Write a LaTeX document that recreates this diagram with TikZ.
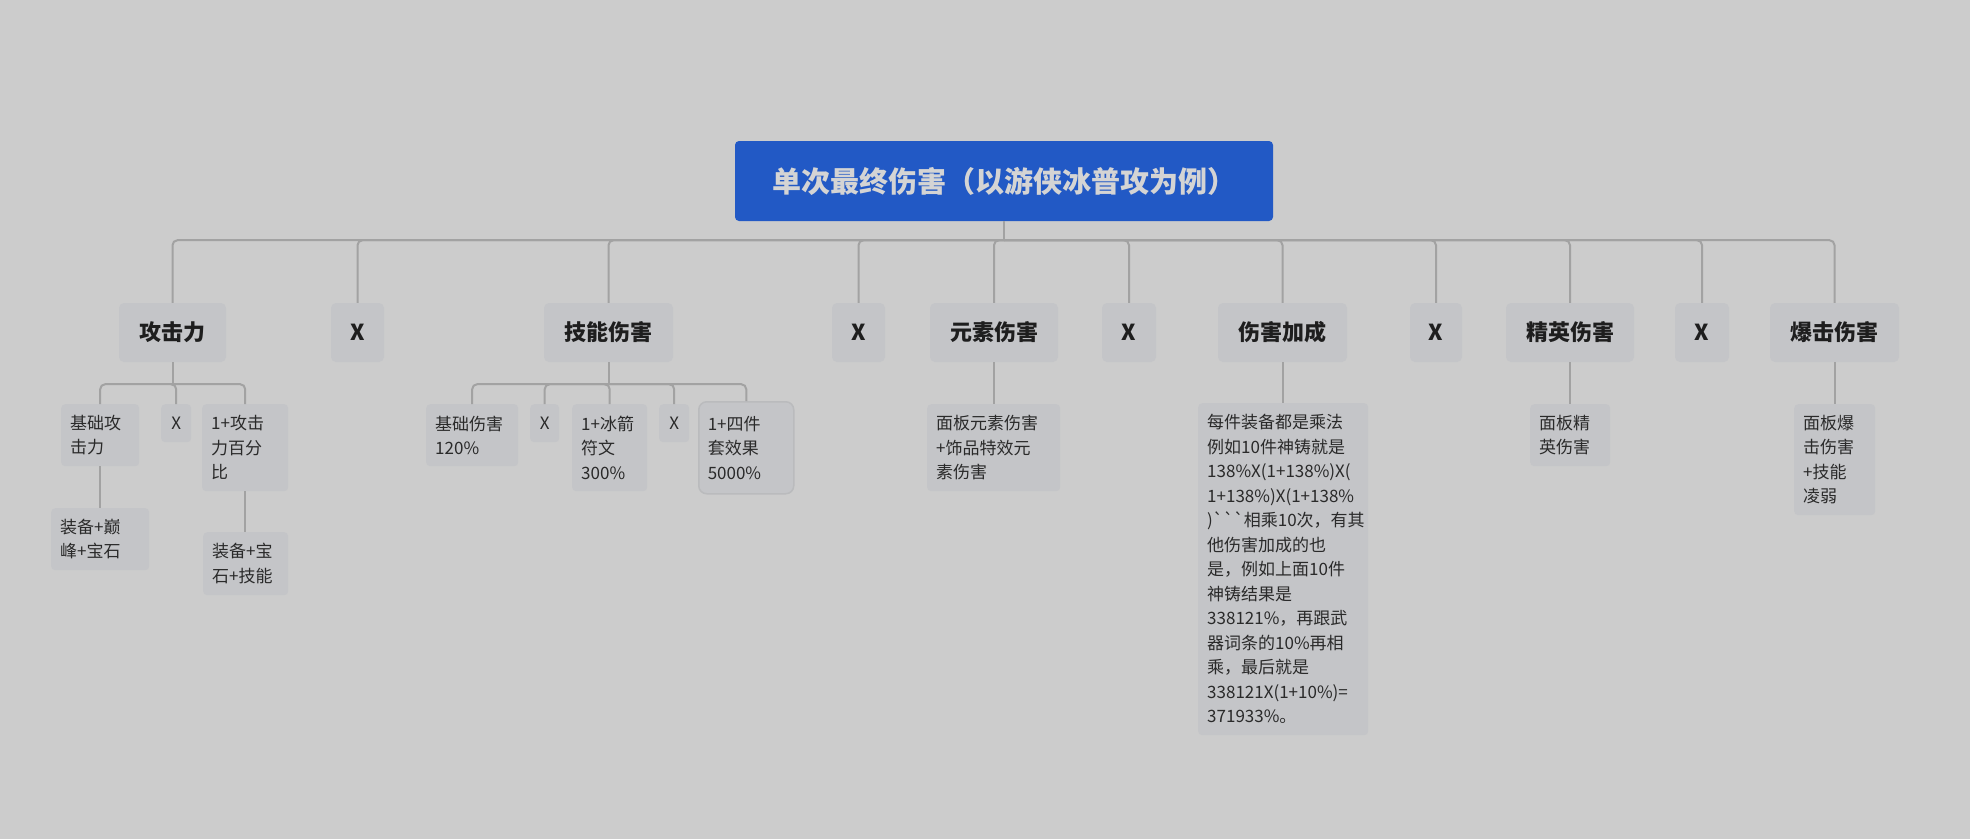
\documentclass[tikz,border=0pt]{standalone}
\usepackage{fontspec}
\setmainfont{Noto Sans CJK SC}
\newfontfamily\rawfont{Noto Sans CJK SC}[Ligatures=TeXOff]
\definecolor{bg}{HTML}{CCCCCC}
\definecolor{nodefill}{HTML}{C4C5C8}
\definecolor{rootfill}{HTML}{2259C5}
\definecolor{roottext}{HTML}{D4D4D4}
\definecolor{linec}{HTML}{A2A2A2}
\definecolor{textc}{HTML}{1E1E1E}
\definecolor{subtext}{HTML}{2A2A2A}
\definecolor{selc}{HTML}{BABBBD}
\begin{document}
\begin{tikzpicture}[x=1pt,y=-1pt,
  rootbox/.style={fill=rootfill, rounded corners=4pt, text=roottext, font=\fontsize{29}{34}\selectfont\bfseries, minimum width=538pt, minimum height=80pt, inner sep=0pt},
  mainbox/.style={fill=nodefill, rounded corners=5pt, text=textc, font=\fontsize{22}{26}\selectfont\bfseries, minimum height=59pt, inner sep=0pt},
  subbox/.style={fill=nodefill, rounded corners=4pt, text=subtext, font=\fontsize{17}{24.5}\selectfont, align=left, inner xsep=9pt, inner ysep=0pt, anchor=north west},
  xbox/.style={fill=nodefill, rounded corners=4pt, text=subtext, font=\fontsize{17}{24.5}\selectfont, inner sep=0pt, anchor=north west, minimum height=38pt},
  conn/.style={draw=linec, line width=2pt, rounded corners=5pt},
  stem/.style={draw=linec, line width=2pt},
]
\fill[bg] (0,0) rectangle (1970,839);
\useasboundingbox (0,0) rectangle (1970,839);

% root
\node[rootbox] (root) at (1004,181) {单次最终伤害（以游侠冰普攻为例）};

% level 1
\node[mainbox, minimum width=107pt] (m1) at (172.5,332.5) {攻击力};
\node[mainbox, minimum width=53pt]  (x1) at (357.5,332.5) {X};
\node[mainbox, minimum width=129pt] (m2) at (608.5,332.5) {技能伤害};
\node[mainbox, minimum width=53pt]  (x2) at (858.5,332.5) {X};
\node[mainbox, minimum width=128pt] (m3) at (994,332.5) {元素伤害};
\node[mainbox, minimum width=54pt]  (x3) at (1129,332.5) {X};
\node[mainbox, minimum width=129pt] (m4) at (1282.5,332.5) {伤害加成};
\node[mainbox, minimum width=52pt]  (x4) at (1436,332.5) {X};
\node[mainbox, minimum width=128pt] (m5) at (1570,332.5) {精英伤害};
\node[mainbox, minimum width=54pt]  (x5) at (1702,332.5) {X};
\node[mainbox, minimum width=129pt] (m6) at (1834.5,332.5) {爆击伤害};

% connectors root -> level 1
\coordinate (rb) at ([yshift=-19pt]root.south);
\draw[stem] (root.south) -- (rb);
\foreach \n in {m1,x1,m2,x2,m3,x3,m4,x4,m5,x5,m6}
  \draw[conn] (rb) -| (\n.north);

% 攻击力 subtree
\node[subbox, text width=60pt, minimum height=62pt] (a1) at (61,404) {基础攻\\击力};
\node[xbox, minimum width=30pt] (a2) at (161,404) {X};
\node[subbox, text width=68pt, minimum height=87pt] (a3) at (202,404) {1+攻击\\力百分\\比};
\node[subbox, text width=80pt, minimum height=62pt] (a4) at (51,508) {装备+巅\\峰+宝石};
\node[subbox, text width=67pt, minimum height=63pt] (a5) at (203,532) {装备+宝\\石+技能};
\coordinate (ab) at ([yshift=-22pt]m1.south);
\draw[stem] (m1.south) -- (ab);
\foreach \n in {a1,a2,a3}
  \draw[conn] (ab) -| (\n.north);
\draw[stem] (a1.south) -- (a1.south |- a4.north);
\draw[stem] (a3.south) -- (a3.south |- a5.north);

% 技能伤害 subtree
\node[subbox, text width=74pt, minimum height=62pt] (b1) at (426,404) {基础伤害\\120\%};
\node[xbox, minimum width=29pt] (b2) at (530,404) {X};
\node[subbox, text width=57pt, minimum height=87pt] (b3) at (572,404) {1+冰箭\\符文\\300\%};
\node[xbox, minimum width=30pt] (b4) at (659,404) {X};
\node[subbox, draw=selc, line width=1.5pt, rounded corners=8pt, text width=77pt, minimum height=92pt, inner xsep=9pt] (b5) at (698,401) {1+四件\\套效果\\5000\%};
\coordinate (bb) at ([yshift=-22pt]m2.south);
\draw[stem] (m2.south) -- (bb);
\foreach \n in {b1,b2,b3,b4,b5}
  \draw[conn] (bb) -| (\n.north);

% 元素伤害
\node[subbox, text width=115pt, minimum height=87pt] (c1) at (927,404) {面板元素伤害\\+饰品特效元\\素伤害};
\draw[stem] (m3.south) -- (m3.south |- c1.north);

% 伤害加成
\node[subbox, text width=152pt, minimum height=332pt] (d1) at (1198,403) {每件装备都是乘法\\例如10件神铸就是\\138\%X(1+138\%)X(\\1+138\%)X(1+138\%\\){\rawfont ```}相乘10次，有其\\他伤害加成的也\\是，例如上面10件\\神铸结果是\\338121\%，再跟武\\器词条的10\%再相\\乘，最后就是\\338121X(1+10\%)=\\371933\%。};
\draw[stem] (m4.south) -- (m4.south |- d1.north);

% 精英伤害
\node[subbox, text width=62pt, minimum height=62pt] (e1) at (1530,404) {面板精\\英伤害};
\draw[stem] (m5.south) -- (m5.south |- e1.north);

% 爆击伤害
\node[subbox, text width=63pt, minimum height=111pt] (f1) at (1794,404) {面板爆\\击伤害\\+技能\\凌弱};
\draw[stem] (m6.south) -- (m6.south |- f1.north);
\end{tikzpicture}
\end{document}
